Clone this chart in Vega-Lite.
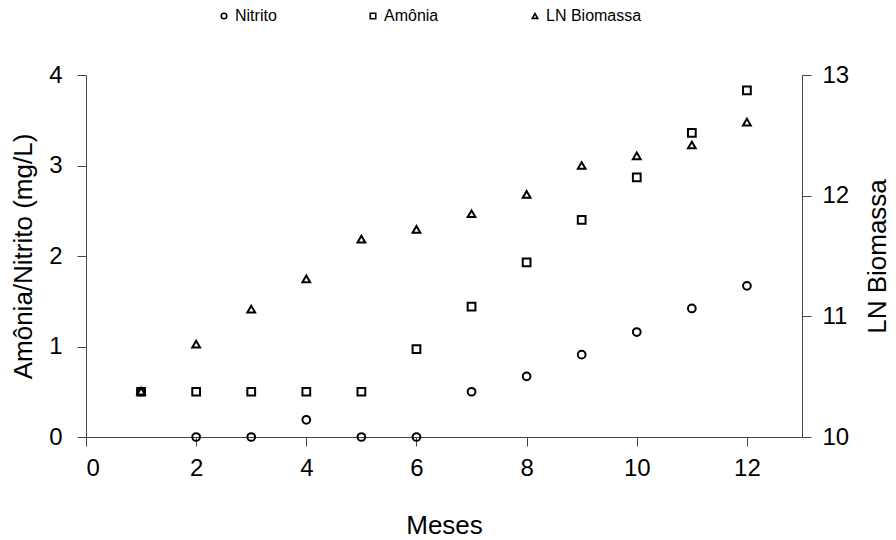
{
  "$schema": "https://vega.github.io/schema/vega-lite/v6.json",
  "width": 716,
  "height": 362,
  "autosize": {"type": "none"},
  "padding": {"left": 86, "top": 75, "right": 94, "bottom": 103},
  "background": "white",
  "config": {
    "view": {"stroke": null},
    "font": "Liberation Sans",
    "axis": {
      "grid": false,
      "domainColor": "#444444",
      "tickColor": "#444444",
      "labelColor": "#000000",
      "titleColor": "#000000",
      "labelFont": "Liberation Sans",
      "titleFont": "Liberation Sans",
      "titleFontWeight": "normal",
      "labelFontSize": 24,
      "titleFontSize": 26,
      "tickSize": 9
    },
    "legend": {"labelFont": "Liberation Sans", "labelColor": "#000000"}
  },
  "data": {
    "values": [
      {"mes": 1, "serie": "Nitrito", "valor": 0.5},
      {"mes": 2, "serie": "Nitrito", "valor": 0.0},
      {"mes": 3, "serie": "Nitrito", "valor": 0.0},
      {"mes": 4, "serie": "Nitrito", "valor": 0.19},
      {"mes": 5, "serie": "Nitrito", "valor": 0.0},
      {"mes": 6, "serie": "Nitrito", "valor": 0.0},
      {"mes": 7, "serie": "Nitrito", "valor": 0.5},
      {"mes": 8, "serie": "Nitrito", "valor": 0.67},
      {"mes": 9, "serie": "Nitrito", "valor": 0.91},
      {"mes": 10, "serie": "Nitrito", "valor": 1.16},
      {"mes": 11, "serie": "Nitrito", "valor": 1.42},
      {"mes": 12, "serie": "Nitrito", "valor": 1.67},
      {"mes": 1, "serie": "Amônia", "valor": 0.5},
      {"mes": 2, "serie": "Amônia", "valor": 0.5},
      {"mes": 3, "serie": "Amônia", "valor": 0.5},
      {"mes": 4, "serie": "Amônia", "valor": 0.5},
      {"mes": 5, "serie": "Amônia", "valor": 0.5},
      {"mes": 6, "serie": "Amônia", "valor": 0.97},
      {"mes": 7, "serie": "Amônia", "valor": 1.44},
      {"mes": 8, "serie": "Amônia", "valor": 1.93},
      {"mes": 9, "serie": "Amônia", "valor": 2.4},
      {"mes": 10, "serie": "Amônia", "valor": 2.87},
      {"mes": 11, "serie": "Amônia", "valor": 3.36},
      {"mes": 12, "serie": "Amônia", "valor": 3.83},
      {"mes": 1, "serie": "LN Biomassa", "valor": 10.38},
      {"mes": 2, "serie": "LN Biomassa", "valor": 10.77},
      {"mes": 3, "serie": "LN Biomassa", "valor": 11.06},
      {"mes": 4, "serie": "LN Biomassa", "valor": 11.31},
      {"mes": 5, "serie": "LN Biomassa", "valor": 11.64},
      {"mes": 6, "serie": "LN Biomassa", "valor": 11.72},
      {"mes": 7, "serie": "LN Biomassa", "valor": 11.85},
      {"mes": 8, "serie": "LN Biomassa", "valor": 12.01},
      {"mes": 9, "serie": "LN Biomassa", "valor": 12.25},
      {"mes": 10, "serie": "LN Biomassa", "valor": 12.33},
      {"mes": 11, "serie": "LN Biomassa", "valor": 12.42},
      {"mes": 12, "serie": "LN Biomassa", "valor": 12.61}
    ]
  },
  "encoding": {
    "x": {
      "field": "mes",
      "type": "quantitative",
      "scale": {"domain": [0, 13], "nice": false, "zero": false},
      "axis": {"values": [0, 2, 4, 6, 8, 10, 12], "title": "Meses", "labelPadding": 10, "titlePadding": 32}
    }
  },
  "layer": [
    {
      "transform": [{"filter": "datum.serie != 'LN Biomassa'"}],
      "mark": {"type": "point", "filled": false, "strokeWidth": 2, "color": "black", "size": 60, "opacity": 1},
      "encoding": {
        "y": {
          "field": "valor",
          "type": "quantitative",
          "scale": {"domain": [0, 4], "nice": false},
          "axis": {"orient": "left", "values": [0, 1, 2, 3, 4], "title": "Amônia/Nitrito (mg/L)", "labelPadding": 15, "titlePadding": 12}
        },
        "shape": {
          "field": "serie",
          "type": "nominal",
          "scale": {"domain": ["Nitrito", "Amônia", "LN Biomassa"], "range": ["circle", "square", "triangle-up"]},
          "legend": {
            "title": null,
            "orient": "none",
            "legendX": 130,
            "legendY": -67,
            "direction": "horizontal",
            "gridAlign": "none",
            "columnPadding": 88,
            "labelFontSize": 16,
            "labelOffset": 3,
            "symbolSize": 30,
            "symbolStrokeWidth": 1.6,
            "symbolStrokeColor": "black",
            "symbolFillColor": "white"
          }
        }
      }
    },
    {
      "transform": [{"filter": "datum.serie == 'LN Biomassa'"}],
      "mark": {"type": "point", "filled": false, "strokeWidth": 2, "color": "black", "size": 60, "opacity": 1},
      "encoding": {
        "y": {
          "field": "valor",
          "type": "quantitative",
          "scale": {"domain": [10, 13], "nice": false, "zero": false},
          "axis": {"orient": "right", "values": [10, 11, 12, 13], "title": "LN Biomassa", "titleAngle": 270, "titleBaseline": "top", "labelPadding": 11, "titlePadding": 16}
        },
        "shape": {
          "field": "serie",
          "type": "nominal",
          "scale": {"domain": ["Nitrito", "Amônia", "LN Biomassa"], "range": ["circle", "square", "triangle-up"]}
        }
      }
    }
  ],
  "resolve": {"scale": {"y": "independent"}}
}
